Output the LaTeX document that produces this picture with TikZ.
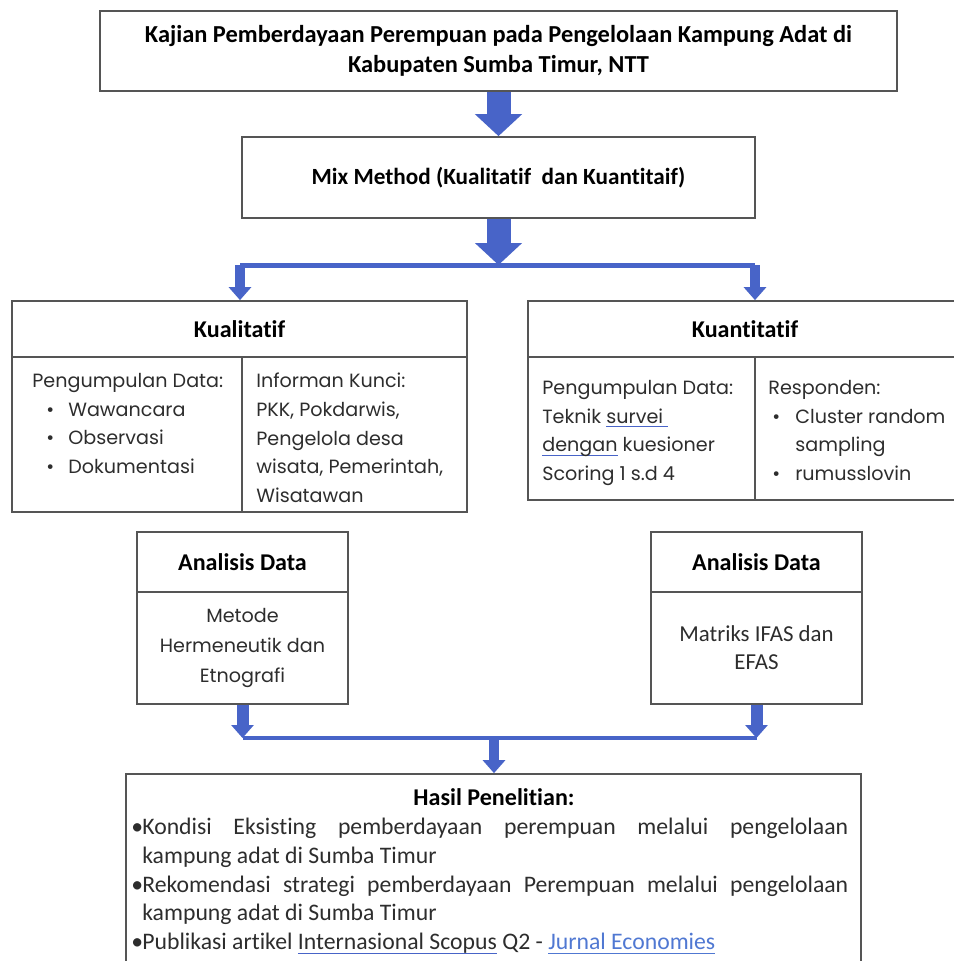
\documentclass[tikz,border=0pt]{standalone}
\usepackage{fontspec}
\setmainfont{Carlito}[Ligatures=NoCommon]
\newfontfamily\gothic{Poppins}
\usepackage{xcolor}
\usetikzlibrary{arrows.meta,calc}
\definecolor{biru}{RGB}{72,100,200}
\definecolor{tautan}{RGB}{80,120,210}
\definecolor{garis}{RGB}{85,85,85}
\definecolor{tinta}{RGB}{45,45,45}
\newsavebox{\kotakul}
\newcommand{\ulwarna}[2]{\sbox{\kotakul}{#2}\rlap{\color{#1}\rule[-2.4pt]{\wd\kotakul}{0.6pt}}\usebox{\kotakul}}
\newcommand{\ulbiru}[1]{\ulwarna{biru}{#1}}
\newcommand{\butir}[2]{\makebox[#1][l]{\hspace{#2}\textbullet}}
\newcommand{\poin}{\hangindent=0.22cm\hangafter=1\noindent\makebox[0.22cm][l]{\textbullet}}

\begin{document}
\begin{tikzpicture}[x=0.02cm,y=-0.02cm,
	kotak/.style={draw=garis,line width=1pt,inner sep=0pt},
	tebal/.style={font=\bfseries\fontsize{13.7}{16.5}\selectfont,align=center},
	isi/.style={anchor=north west,inner sep=0pt,align=left,text=tinta,font=\gothic\fontsize{10.9}{16.3}\selectfont},
	panahbesar/.style={biru,line width=0.48cm,-{Triangle[width=0.92cm,length=0.44cm]}},
	panahkecil/.style={biru,line width=0.2cm,-{Triangle[width=0.44cm,length=0.26cm]}},
	palang/.style={biru,line width=0.1cm}]
	\useasboundingbox (0,0) rectangle (954,961);

	\node[kotak,tebal,minimum width=15.94cm,minimum height=1.6cm,font=\bfseries\fontsize{13.9}{16.8}\selectfont] (judul) at (498.5,51) {Kajian Pemberdayaan Perempuan pada Pengelolaan Kampung Adat di\\Kabupaten Sumba Timur, NTT};
	\node[kotak,tebal,minimum width=10.26cm,minimum height=1.62cm,font=\bfseries\fontsize{13.2}{16}\selectfont] (metode) at (498.5,177.5) {Mix Method (Kualitatif~ dan Kuantitaif)};

	\node[kotak,tebal,minimum width=9.1cm,minimum height=1.12cm] (kualJudul) at (239.5,329) {Kualitatif};
	\node[kotak,minimum width=4.6cm,minimum height=3.1cm] (kualKiri) at (127,434.5) {};
	\node[kotak,minimum width=4.5cm,minimum height=3.1cm] (kualKanan) at (354.5,434.5) {};
	\node[isi] (kualData) at (32,373) {Pengumpulan Data:\\
		\butir{0.72cm}{0.28cm}Wawancara\\
		\butir{0.72cm}{0.28cm}Observasi\\
		\butir{0.72cm}{0.28cm}Dokumentasi};
	\node[isi] (kualInforman) at (256,373) {Informan Kunci:\\PKK, Pokdarwis,\\Pengelola desa\\wisata, Pemerintah,\\Wisatawan};

	\node[kotak,tebal,minimum width=8.68cm,minimum height=1.12cm] (kuanJudul) at (745,329) {Kuantitatif};
	\node[kotak,minimum width=4.54cm,minimum height=2.86cm] (kuanKiri) at (641.5,428.5) {};
	\node[kotak,minimum width=4.14cm,minimum height=2.86cm] (kuanKanan) at (858.5,428.5) {};
	\node[isi] (kuanData) at (542,380) {Pengumpulan Data:\\Teknik \ulbiru{survei\ }\\\ulbiru{dengan} kuesioner\\Scoring 1 s.d 4};
	\node[isi] (kuanResponden) at (768,380) {Responden:\\
		\butir{0.54cm}{0.08cm}Cluster random\\
		\hspace*{0.54cm}sampling\\
		\butir{0.54cm}{0.08cm}rumusslovin};

	\node[kotak,tebal,minimum width=4.22cm,minimum height=1.2cm] (anKiriJudul) at (242.5,562) {Analisis Data};
	\node[kotak,minimum width=4.22cm,minimum height=2.24cm,align=center,text=tinta,font=\gothic\fontsize{10.9}{16.8}\selectfont] (anKiriIsi) at (242.5,648) {Metode\\Hermeneutik dan\\Etnografi};
	\node[kotak,tebal,minimum width=4.22cm,minimum height=1.2cm] (anKananJudul) at (756.5,562) {Analisis Data};
	\node[kotak,minimum width=4.22cm,minimum height=2.24cm,align=center,text=tinta,font=\fontsize{13}{15.9}\selectfont] (anKananIsi) at (756.5,648) {Matriks IFAS dan\\EFAS};

	\node[kotak,minimum width=14.7cm,minimum height=4.32cm] (hasil) at (493.5,882) {};
	\node[tebal] (hasilJudul) at (494,797) {Hasil Penelitian:};
	\node[anchor=north west,inner sep=0pt,text width=14.34cm,align=justify,text=tinta,font=\fontsize{13.5}{16.3}\selectfont] (hasilIsi) at (131,818) {%
		\poin Kondisi Eksisting pemberdayaan perempuan melalui pengelolaan\linebreak kampung adat di Sumba Timur\par
		\poin Rekomendasi strategi pemberdayaan Perempuan melalui pengelolaan\linebreak kampung adat di Sumba Timur\par
		\poin Publikasi artikel \ulbiru{Internasional Scopus} Q2 - {\color{tautan}\ulwarna{tautan}{Jurnal Economies}}\par};

	\coordinate (cabang) at (498.5,265);
	\coordinate (cabangKiri) at (240,265);
	\coordinate (cabangKanan) at (755,265);
	\coordinate (gabung) at (494,738);
	\coordinate (gabungKiri) at (anKiriIsi.south |- gabung);
	\coordinate (gabungKanan) at (anKananIsi.south |- gabung);

	\draw[panahbesar] (judul.south) -- (metode.north);
	\draw[panahbesar] (metode.south) -- (cabang);
	\draw[palang] (cabangKiri) -- (cabangKanan);
	\draw[panahkecil] (cabangKiri) -- (cabangKiri |- kualJudul.north);
	\draw[panahkecil] (cabangKanan) -- (cabangKanan |- kuanJudul.north);
	\draw[panahkecil,line width=0.24cm] (anKiriIsi.south) -- (gabungKiri);
	\draw[panahkecil,line width=0.24cm] (anKananIsi.south) -- (gabungKanan);
	\draw[palang,line width=0.08cm] (gabungKiri) -- (gabungKanan);
	\draw[panahkecil] (gabung) -- (gabung |- hasil.north);
\end{tikzpicture}
\end{document}
